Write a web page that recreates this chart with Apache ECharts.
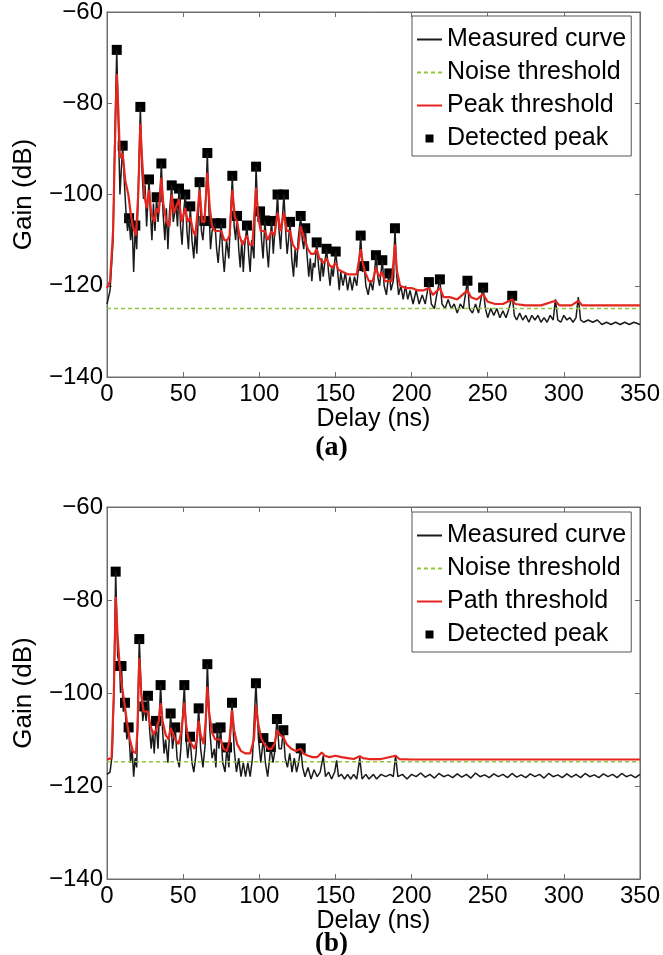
<!DOCTYPE html>
<html>
<head>
<meta charset="utf-8">
<script src="https://cdn.jsdelivr.net/npm/echarts@6/dist/echarts.min.js"></script>
<style>
  html, body { margin: 0; padding: 0; background: #fff; }
  #chart { width: 663px; height: 955px; }
</style>
</head>
<body>
<div id="chart"></div>
<script>
// axis ticks
const delayTicks = [0, 50, 100, 150, 200, 250, 300, 350];
const gainTicks = [-140, -120, -100, -80, -60];

// (a) measured curve [delay ns, gain dB]
const measuredA = [
  [0,-124],[2,-121],[4,-110],[5,-90],[6.4,-68.3],[7.5,-85],[8.5,-100],[10.3,-89.3],[11.5,-98],[12.5,-104],
  [13.5,-108],[14.5,-105.2],[15.5,-110],[16.5,-106],[17.5,-117],[18.6,-106.8],[19.5,-112],[20.5,-100],[21.9,-80.8],[23,-95],
  [24,-101],[25,-98],[26,-107],[27.6,-96.7],[28.5,-104],[29.5,-110],[30.5,-102],[31.5,-108],[32.6,-100.6],[33.5,-106],
  [34.5,-102],[35.7,-93.2],[36.8,-104],[38,-110],[39,-103],[40,-112],[41,-104],[42.5,-98],[43.5,-106],[44.5,-104],
  [45.3,-102],[46.3,-107],[47.3,-98.7],[48.3,-107],[49.3,-111],[50.3,-104],[51.4,-100],[52.5,-108],[53.5,-112],[54.7,-102.6],
  [55.8,-110],[57,-114],[58,-108],[59,-113],[60.8,-97.3],[62,-108],[63,-110],[63.9,-105.8],[65,-100],[65.9,-90.9],
  [67,-104],[68,-112],[69,-108],[70.9,-106.3],[72,-112],[73,-115],[75,-106.3],[76,-113],[77,-117],[78.5,-110],
  [80,-114],[81,-106],[82.3,-95.9],[83.5,-107],[84.5,-110],[85.4,-104.7],[86.5,-112],[87.5,-116],[88.5,-110],[89.5,-117],
  [90.5,-111],[91.9,-106.8],[93,-113],[94,-117],[95,-110],[96.5,-114],[97.9,-93.9],[99.2,-106],[100.5,-103.7],[101.5,-110],
  [102.5,-114],[103.7,-105.7],[105,-112],[106,-116],[107,-110],[108.1,-105.8],[109.2,-113],[110.2,-108],[111,-106],[112,-100],
  [113,-108],[114,-112],[115,-106],[116.2,-100],[117.3,-108],[118.3,-113],[119.2,-110],[120.2,-106],[121.3,-114],[122.5,-118],
  [123.5,-112],[124.5,-116],[125.5,-110],[127.2,-104.7],[128.3,-110],[129.2,-112],[130.2,-107.4],[131.3,-113],[132.5,-118],[133.5,-114],
  [134.5,-119],[135.5,-115],[136.5,-116],[137.7,-110.5],[139,-116],[140,-119],[141,-114],[142,-118],[143,-115],[144.2,-111.9],
  [145.5,-117],[146.5,-120],[147.5,-116],[148.5,-118],[150.2,-112.5],[151.5,-117],[152.5,-121],[153.5,-117],[155,-120],[156.5,-117],
  [158,-121],[159.5,-118],[161,-121],[162.5,-118],[164,-120],[165.5,-115],[166.6,-109],[167.8,-117],[168.9,-115.7],[170,-120],
  [171.5,-122],[173,-119],[174.5,-121],[175.5,-118],[176.6,-113.3],[177.8,-118],[179,-120],[180.8,-114.4],[182,-120],[183.5,-122],
  [184.5,-119],[185.4,-117.3],[186.5,-121],[188,-119],[189.1,-107.4],[190.3,-118],[191.5,-122],[193,-120],[194.5,-123],[196,-120],
  [197.5,-123],[199,-121],[201,-124],[203,-121],[205,-124],[207,-122],[209,-124],[211.4,-119.2],[213,-124],[215,-125],
  [216.5,-122],[218.6,-118.6],[220,-124],[222,-125],[224,-123],[226,-125],[228,-124],[230,-126],[232,-124],[234,-125],
  [236.7,-118.9],[238,-125],[240,-126],[242,-124],[244,-126],[245.5,-123],[247,-120.4],[248.5,-125],[250,-127],[252,-125],
  [254,-126.5],[256,-125],[258,-127],[260,-125.5],[262,-127],[264,-125],[266.1,-122.2],[267.5,-126.5],[269,-127.5],[271,-126],
  [273,-127.5],[275,-126.5],[277,-128],[279,-126.5],[281,-127.5],[283,-126.5],[285,-128],[287,-127],[289,-128],[291,-126.5],
  [293,-127.5],[294.5,-123],[296,-127.5],[298,-128],[300,-126.5],[302,-127.5],[304,-127],[306,-128],[308,-127],[309.5,-122.5],
  [311,-127.5],[313,-128],[316,-127.5],[319,-128],[322,-127.5],[325,-128.5],[328,-128],[331,-128.5],[334,-128],[337,-128.5],
  [340,-128],[343,-128.5],[346,-128],[350,-128.5]
];

// (a) peak threshold
const peakThresholdA = [
  [0,-120.5],[2,-119],[4,-108],[5.5,-85],[6.4,-73.6],[7.5,-82],[8.5,-92],[10.3,-91],[12,-97],[14,-100],
  [15.5,-104],[17,-107],[19,-109],[20.5,-100],[21.9,-84.5],[23,-92],[24.5,-100],[26,-103],[27.6,-99],[29,-104],
  [31,-106],[32.6,-103],[34,-104],[35.7,-96.3],[37,-102],[39,-106],[41,-107],[42.5,-100],[44,-104],[45.3,-104],
  [47.3,-101],[49,-106],[51.4,-103],[53,-106],[54.7,-105],[56.5,-108],[58,-109],[60.8,-99],[62.5,-106],[64,-106],
  [65.9,-95.2],[67.5,-103],[69,-107],[70.9,-108],[73,-108],[75,-108],[77,-110],[79,-110],[80.5,-109],[82.3,-99],
  [84,-105],[85.4,-106],[87,-109],[89,-111],[91.9,-109],[93.5,-111],[95.5,-111],[97.9,-98.5],[99.3,-105],[101,-108],
  [103.7,-108],[105.5,-110],[108.1,-108],[110,-109],[112,-104],[114,-108],[116.2,-104],[118,-108],[120.2,-108],[122,-111],
  [124,-112],[125.5,-112],[127.2,-107],[129,-109],[130.2,-109],[132,-112],[134,-113],[136,-113],[137.7,-112],[139.5,-114],
  [142,-115],[144.2,-114],[146,-115.5],[148,-116],[150.2,-115],[152,-116.5],[155,-117],[158,-117.5],[161,-117.5],[164,-117.5],
  [166.6,-112],[168,-115],[169.5,-117],[172,-119],[174.5,-119],[176.6,-116],[178.5,-118],[180.8,-117],[182.5,-119],[185.4,-119],
  [187,-119],[189.1,-111],[190.5,-117],[192.5,-120],[196,-120.5],[200,-120.5],[204,-121],[208,-121],[211.4,-120.5],[214,-122],
  [218.6,-120.5],[221,-122.5],[225,-122.5],[230,-123],[236.7,-121],[239,-122.5],[243,-123],[247,-121.8],[250,-123.5],[255,-124],
  [260,-124],[266.1,-123],[268,-124],[275,-124.3],[285,-124.3],[294.5,-123.3],[297,-124.3],[305,-124.3],[309.5,-123.3],[312,-124.3],
  [330,-124.3],[350,-124.3]
];

const noiseA = [[0,-125],[350,-125]];

const detectedA = [
  [6.4,-68.3],[10.3,-89.3],[14.5,-105.2],[18.6,-106.8],[21.9,-80.8],[27.6,-96.7],[32.6,-100.6],[35.7,-93.2],[42.5,-98],[45.3,-102],
  [47.3,-98.7],[51.4,-100],[54.7,-102.6],[60.8,-97.3],[63.9,-105.8],[65.9,-90.9],[70.9,-106.3],[75,-106.3],[82.3,-95.9],[85.4,-104.7],
  [91.9,-106.8],[97.9,-93.9],[100.5,-103.7],[103.7,-105.7],[108.1,-105.8],[112,-100],[116.2,-100],[120.2,-106],[127.2,-104.7],[130.2,-107.4],
  [137.7,-110.5],[144.2,-111.9],[150.2,-112.5],[166.6,-109],[168.9,-115.7],[176.6,-113.3],[180.8,-114.4],[185.4,-117.3],[189.1,-107.4],[211.4,-119.2],
  [218.6,-118.6],[236.7,-118.9],[247,-120.4],[266.1,-122.2]
];

// (b) measured curve
const measuredB = [
  [0,-117.5],[2,-117],[3.5,-113],[4.5,-100],[5.7,-73.9],[7,-92],[8.3,-94.2],[8.9,-100],[9.5,-94.2],[10.7,-104],
  [11.8,-102.1],[13,-110],[14.2,-107.4],[15.5,-115],[16.5,-112],[17.5,-118],[18.5,-114],[19.5,-116],[21.2,-88.4],[22.5,-100],
  [23.5,-106],[24.5,-102.9],[25.7,-106],[26.9,-100.6],[28,-108],[29,-112],[30,-108],[31,-113],[32.2,-106],[33.5,-112],
  [35.2,-98.3],[36.5,-108],[37.5,-113],[38.5,-110],[40,-115],[41.8,-104.4],[43,-112],[44.8,-107.4],[46,-114],[47.5,-116],
  [48.5,-112],[50.8,-98.3],[52,-110],[53,-114],[54.5,-109.4],[55.8,-115],[57,-117],[58.5,-113],[60.2,-103.3],[61.5,-112],
  [63,-116],[64.5,-111],[65.9,-93.8],[67.5,-108],[69,-114],[70.5,-112],[71.5,-116],[72.4,-107.6],[73.5,-112],[74.6,-107.4],
  [76,-115],[77.5,-117],[78.8,-111.7],[80,-116],[82.1,-102.1],[83.5,-112],[85,-117],[86.5,-114],[88,-118],[89.5,-115],
  [91,-118],[92.5,-115],[94,-118],[95.5,-114],[97.8,-97.9],[99.5,-110],[101,-115],[102.7,-109.7],[104,-115],[105.5,-118],
  [107.6,-111.6],[109,-115],[110,-113],[111.6,-105.6],[113,-112],[114.5,-112],[115.8,-108],[117,-114],[118.5,-116],[120,-113],
  [121.5,-117],[123,-114],[124.5,-117],[125.8,-115],[127.2,-111.9],[128.5,-116],[130,-118],[132,-116],[134,-118.5],[136,-116.5],
  [138,-118],[140,-117],[142,-113.5],[143.5,-118],[145.5,-117],[147.5,-118.5],[149.5,-117],[150.8,-114.5],[152,-118],[154,-117.5],
  [156,-118.5],[158,-117.5],[160,-118.5],[162,-117.5],[164,-118.5],[166,-114],[167.5,-118.5],[170,-117.5],[172,-118.5],[175,-117.5],
  [177,-118.5],[180,-117.5],[183,-118],[186,-117.5],[188,-118],[189.5,-113.5],[191,-118],[194,-117.5],[197,-118.5],[200,-117.5],
  [203,-118],[206,-117.2],[209,-118.1],[212,-117.5],[215,-118.3],[218,-117.3],[221,-118],[224,-117.6],[227,-118.2],[230,-117.4],
  [233,-118.1],[236,-117.5],[239,-118.3],[242,-117.2],[245,-118],[248,-117.6],[251,-118.2],[254,-117.4],[257,-118],[260,-117.5],
  [263,-118.2],[266,-117.3],[269,-118.1],[272,-117.6],[275,-118.2],[278,-117.4],[281,-118],[284,-117.5],[287,-118.3],[290,-117.3],
  [293,-118],[296,-117.6],[299,-118.2],[302,-117.4],[305,-118.1],[308,-117.5],[311,-118.2],[314,-117.3],[317,-118],[320,-117.6],
  [323,-118.2],[326,-117.4],[329,-118],[332,-117.5],[335,-118.2],[338,-117.3],[341,-118],[344,-117.6],[347,-118.2],[350,-117.5]
];

// (b) path threshold
const pathThresholdB = [
  [0,-114.3],[3,-114],[4.5,-100],[5.7,-79.3],[7,-88],[8.5,-95],[10,-99],[11.8,-103],[13,-106],[15,-110],
  [17,-112.5],[19,-113],[20,-108],[21.2,-92.5],[22.5,-100],[24,-104],[26.9,-104],[28.5,-107],[30.5,-109],[32.2,-108],
  [34,-106],[35.2,-102.2],[36.5,-106],[38.5,-109],[40.5,-110],[41.8,-107.5],[43.5,-109],[45,-110],[47,-111],[49,-108],
  [50.8,-102],[52,-107],[53.5,-110],[55.5,-111],[57.5,-112],[59,-110],[60.2,-106],[61.5,-109],[63.5,-111],[64.8,-106],
  [65.9,-98.6],[67,-104],[69,-108.5],[71,-110],[72.4,-110],[74.6,-110],[76.5,-112],[78.8,-112.5],[80.5,-110],[82.1,-103.7],
  [83.5,-108],[85.5,-111],[88,-112.5],[91,-113],[94,-113],[96.5,-110],[97.8,-102.6],[99.5,-107],[101.5,-110],[103.5,-111],
  [106,-112],[108,-112],[110,-111],[111.6,-108],[113.5,-109],[115.8,-109.5],[118,-111],[121,-112],[124,-112.5],[127.2,-112],
  [129,-113],[132,-113.5],[135,-113.8],[138,-113.8],[141,-112.8],[143,-113.5],[146,-113.8],[150,-113.5],[154,-113.8],[158,-114],
  [162,-114.2],[166,-113.6],[168,-114],[172,-114.2],[180,-114.2],[189.5,-113.5],[192,-114.2],[200,-114.3],[350,-114.3]
];

const noiseB = [[0,-114.8],[350,-114.8]];

const detectedB = [
  [5.7,-73.9],[8.3,-94.2],[9.5,-94.2],[11.8,-102.1],[14.2,-107.4],[21.2,-88.4],[24.5,-102.9],[26.9,-100.6],[32.2,-106],[35.2,-98.3],
  [41.8,-104.4],[44.8,-107.4],[50.8,-98.3],[54.5,-109.4],[60.2,-103.3],[65.9,-93.8],[72.4,-107.6],[74.6,-107.4],[78.8,-111.7],[82.1,-102.1],
  [97.8,-97.9],[102.7,-109.7],[107.6,-111.6],[111.6,-105.6],[115.8,-108],[127.2,-111.9]
];

const legendA = ["Measured curve", "Noise threshold", "Peak threshold", "Detected peak"];
const legendB = ["Measured curve", "Noise threshold", "Path threshold", "Detected peak"];

const FONT = "Liberation Sans";
const AXIS_COLOR = "#6e6e6e";
const minus = (v) => String(v).replace("-", "\u2212");

function xAxes(gridIndex, nameGap) {
  const base = {
    type: "value",
    gridIndex,
    min: delayTicks[0],
    max: delayTicks[delayTicks.length - 1],
    interval: 50,
    splitLine: { show: false },
    axisLine: { show: true, onZero: false, lineStyle: { color: AXIS_COLOR } },
    axisTick: { show: true, inside: true, length: 5, lineStyle: { color: AXIS_COLOR } },
  };
  return [
    {
      ...base,
      position: "bottom",
      name: "Delay (ns)",
      nameLocation: "middle",
      nameGap,
      nameTextStyle: { fontFamily: FONT, fontSize: 25, color: "#000" },
      axisLabel: { fontFamily: FONT, fontSize: 24, color: "#000", margin: 5 },
    },
    { ...base, position: "top", axisLabel: { show: false } },
  ];
}

function yAxes(gridIndex) {
  const base = {
    type: "value",
    gridIndex,
    min: gainTicks[0],
    max: gainTicks[gainTicks.length - 1],
    interval: 20,
    splitLine: { show: false },
    axisLine: { show: true, onZero: false, lineStyle: { color: AXIS_COLOR } },
    axisTick: { show: true, inside: true, length: 5, lineStyle: { color: AXIS_COLOR } },
  };
  return [
    {
      ...base,
      position: "left",
      name: "Gain (dB)",
      nameLocation: "middle",
      nameGap: 70,
      nameTextStyle: { fontFamily: FONT, fontSize: 26, color: "#000" },
      axisLabel: { fontFamily: FONT, fontSize: 24, color: "#000", margin: 4, formatter: minus },
    },
    { ...base, position: "right", axisLabel: { show: false } },
  ];
}

function seriesFor(axis, measured, threshold, thresholdName, noise, detected) {
  return [
    {
      name: "Measured curve", type: "line", data: measured,
      xAxisIndex: axis, yAxisIndex: axis, symbol: "none",
      lineStyle: { color: "#1a1a1a", width: 1.5 }, itemStyle: { color: "#1a1a1a" },
    },
    {
      name: "Noise threshold", type: "line", data: noise,
      xAxisIndex: axis, yAxisIndex: axis, symbol: "none",
      lineStyle: { color: "#8dc63f", width: 1.4, type: [4, 3] }, itemStyle: { color: "#8dc63f" },
    },
    {
      name: thresholdName, type: "line", data: threshold,
      xAxisIndex: axis, yAxisIndex: axis, symbol: "none",
      lineStyle: { color: "#e5261e", width: 2.2 }, itemStyle: { color: "#e5261e" },
    },
    {
      name: "Detected peak", type: "scatter", data: detected,
      xAxisIndex: axis, yAxisIndex: axis, symbol: "rect", symbolSize: 10,
      itemStyle: { color: "#000", opacity: 1 },
    },
  ];
}

// line entries: hide the legend dot, keep the line; peak entry: small square
const hiddenDot = { color: "rgba(0,0,0,0)", borderColor: "rgba(0,0,0,0)", borderWidth: 0 };
function legendData(names) {
  return names.map((name, i) =>
    i < 3
      ? { name, itemStyle: hiddenDot }
      : { name, icon: "path://M0,0h10v10h-10z", itemStyle: { color: "#000", opacity: 1 } }
  );
}

const legendBase = {
  orient: "vertical",
  left: 412,
  itemWidth: 25,
  itemHeight: 8,
  itemGap: 8,
  symbolKeepAspect: true,
  padding: [11, 5, 5, 4],
  borderColor: "#555",
  borderWidth: 1,
  backgroundColor: "#fff",
  selectedMode: false,
  textStyle: { fontFamily: FONT, fontSize: 25, color: "#000" },
};

const chart = echarts.init(document.getElementById("chart"));
chart.setOption({
  animation: false,
  backgroundColor: "#fff",
  grid: [
    { left: 107, right: 23, top: 11, height: 366, show: true, borderColor: AXIS_COLOR, borderWidth: 1 },
    { left: 107, right: 23, top: 507, height: 372, show: true, borderColor: AXIS_COLOR, borderWidth: 1 },
  ],
  title: [
    { text: "(a)", left: "center", top: 429, textStyle: { fontFamily: "Liberation Serif", fontWeight: "bold", fontSize: 28, color: "#000" } },
    { text: "(b)", left: "center", top: 926, textStyle: { fontFamily: "Liberation Serif", fontWeight: "bold", fontSize: 27, color: "#000" } },
  ],
  legend: [
    { ...legendBase, top: 16, data: legendData(legendA) },
    { ...legendBase, top: 512, data: legendData(legendB) },
  ],
  xAxis: [...xAxes(0, 28), ...xAxes(1, 21)],
  yAxis: [...yAxes(0), ...yAxes(1)],
  series: [
    ...seriesFor(0, measuredA, peakThresholdA, "Peak threshold", noiseA, detectedA),
    ...seriesFor(2, measuredB, pathThresholdB, "Path threshold", noiseB, detectedB),
  ],
});
</script>
</body>
</html>
